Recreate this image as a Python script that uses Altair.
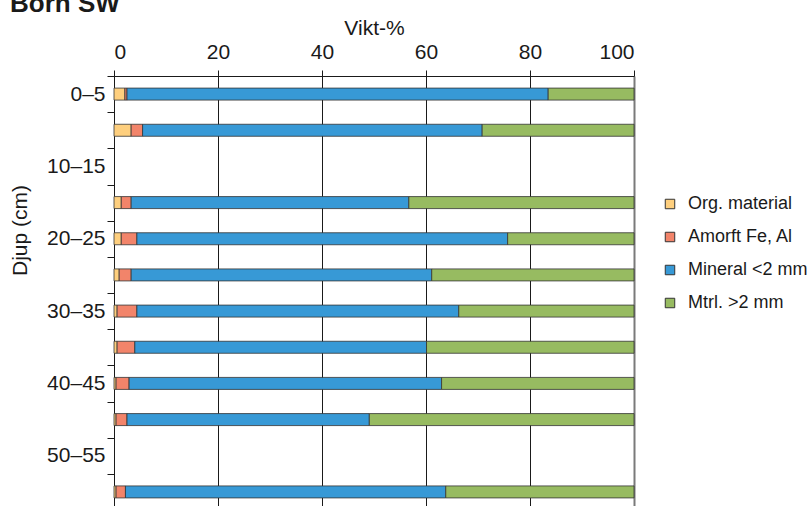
import altair as alt
import pandas as pd

# Depth intervals (cm), top to bottom; two levels have no sample
depths = ["0–5", "5–10", "10–15", "15–20", "20–25", "25–30",
          "30–35", "35–40", "40–45", "45–50", "50–55", "55–60"]
sampled = ["0–5", "5–10", "15–20", "20–25", "25–30",
           "30–35", "35–40", "40–45", "45–50", "55–60"]

# Weight percentages per sampled depth
org_material = [2.1, 3.3, 1.4, 1.4, 1.0, 0.6, 0.6, 0.4, 0.4, 0.4]
amorft_fe_al = [0.4, 2.2, 1.9, 3.0, 2.3, 3.8, 3.4, 2.5, 2.1, 1.8]
mineral_lt2 = [81.0, 65.3, 53.4, 71.3, 57.8, 61.9, 56.1, 60.1, 46.6, 61.6]
mtrl_gt2 = [16.5, 29.2, 43.3, 24.3, 38.9, 33.7, 39.9, 37.0, 50.9, 36.2]

components = ["Org. material", "Amorft Fe, Al", "Mineral <2 mm", "Mtrl. >2 mm"]
colors = ["#FECF7E", "#F2846A", "#3799D6", "#97BB61"]
labelled = ["0–5", "10–15", "20–25", "30–35", "40–45", "50–55"]

rows = []
for i, series in enumerate([org_material, amorft_fe_al, mineral_lt2, mtrl_gt2]):
    for d, v in zip(sampled, series):
        rows.append({"Djup": d, "Komponent": components[i], "ord": i, "Vikt": v})
df = pd.DataFrame(rows)

font = "Liberation Sans"
label_test = "indexof(" + str(labelled) + ", datum.value) >= 0 ? datum.value : ''"

chart = alt.Chart(df).mark_bar(size=12, stroke="#333333", strokeWidth=0.8).encode(
    x=alt.X(
        "Vikt:Q",
        stack="zero",
        scale=alt.Scale(domain=[0, 100], nice=False),
        axis=alt.Axis(
            orient="top",
            title="Vikt-%",
            values=[0, 20, 40, 60, 80, 100],
            grid=True,
            gridColor={"condition": {"test": "datum.value === 100", "value": "#7a7a7a"}, "value": "#1a1a1a"},
            gridWidth={"condition": {"test": "datum.value === 100", "value": 2}, "value": 1},
            domainColor="#1a1a1a",
            tickColor="#1a1a1a",
            tickSize=6,
            labelFontSize=21,
            labelPadding=8,
            labelColor="#1a1a1a",
            titleFontSize=21,
            titleFontWeight="normal",
            titleColor="#1a1a1a",
            titlePadding=3,
        ),
    ),
    y=alt.Y(
        "Djup:N",
        scale=alt.Scale(domain=depths, range=[0, 434], paddingInner=0, paddingOuter=0),
        axis=alt.Axis(
            title="Djup (cm)",
            labelExpr=label_test,
            tickBand="extent",
            grid=False,
            domainColor="#1a1a1a",
            tickColor="#1a1a1a",
            tickSize=7,
            labelFontSize=21,
            labelPadding=2,
            labelColor="#1a1a1a",
            titleFontSize=21,
            titleFontWeight="normal",
            titleColor="#1a1a1a",
            titleX=-84,
            titleY=154,
        ),
    ),
    color=alt.Color(
        "Komponent:N",
        scale=alt.Scale(domain=components, range=colors),
        legend=alt.Legend(
            title=None,
            orient="none",
            legendX=547,
            legendY=119,
            symbolType="square",
            symbolSize=90,
            symbolStrokeColor="#333333",
            symbolStrokeWidth=1,
            symbolOpacity=1,
            labelFontSize=18,
            labelColor="#1a1a1a",
            labelOffset=9,
            rowPadding=15,
        ),
    ),
    order=alt.Order("ord:Q", sort="ascending"),
).properties(
    width=520,
    height=430,
    title=alt.TitleParams(
        "Born SW",
        anchor="start",
        frame="group",
        dx=-104,
        dy=4,
        fontSize=26,
        fontWeight="bold",
        color="#1a1a1a",
        font=font,
    ),
    autosize=alt.AutoSizeParams(type="none"),
    padding={"left": 114, "top": 76, "right": 175, "bottom": 0},
).configure(
    font=font,
    background="white",
).configure_view(
    stroke=None,
)

chart.save("out.html", embed_options={"renderer": "svg", "actions": False})
